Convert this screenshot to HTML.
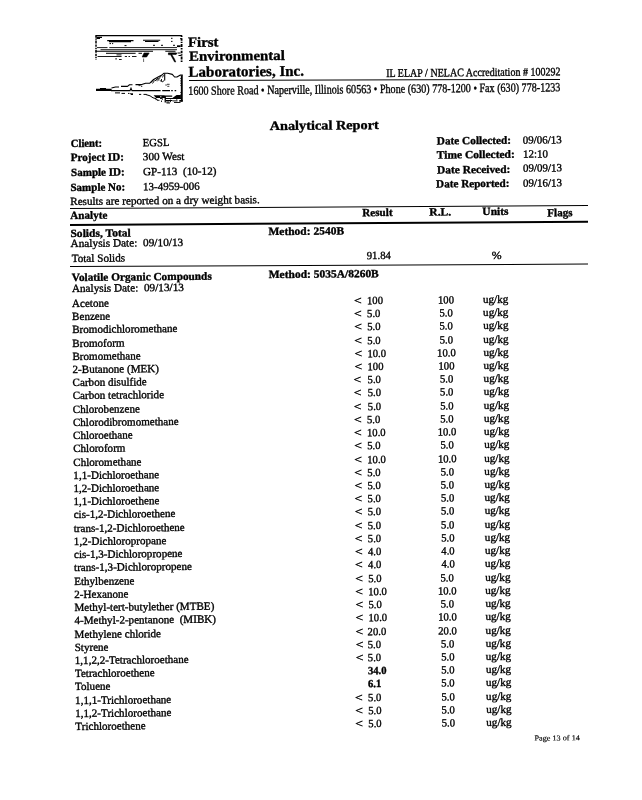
<!DOCTYPE html>
<html lang="en"><head><meta charset="utf-8"><title>Analytical Report</title>
<style>
html,body{margin:0;padding:0;background:#fff;}
body{width:642px;height:800px;overflow:hidden;position:relative;font-family:"Liberation Serif",serif;color:#000;}
#pg{position:absolute;left:0;top:0;width:642px;height:800px;transform:matrix(1,-0.009600,0.007854,1,0,0);transform-origin:72.1px 306.6px;}
#pg span{position:absolute;white-space:pre;line-height:20px;transform-origin:0 50%;-webkit-text-stroke:0.35px #000;}
#sh .ln{position:absolute;background:#000;}
#sh{position:absolute;left:0;top:0;width:642px;height:800px;}
#sh svg{position:absolute;left:0;top:0;overflow:visible;}
</style></head><body>
<div id="sh">
<div class="ln" style="left:70.2px;top:208.2px;width:517.7px;height:1.4px;transform:rotate(-0.338deg);transform-origin:0 50%"></div>
<div class="ln" style="left:70.2px;top:223.85px;width:517.7px;height:1.7px;transform:rotate(-0.365deg);transform-origin:0 50%"></div>
<div class="ln" style="left:70.2px;top:266.35px;width:517.7px;height:1.1px;transform:rotate(-0.266deg);transform-origin:0 50%"></div>
<div class="ln" style="left:189px;top:80.45px;width:371px;height:1.3px;transform:rotate(-0.17deg);transform-origin:0 50%"></div>
<svg width="642" height="800" viewBox="0 0 642 800" fill="none" stroke="#000" stroke-linecap="butt">
<!-- upper panel -->
<path d="M95.5 35.6H182" stroke-width="1.1"/>
<path d="M96 35.5V59.5" stroke-width="1.5" stroke-dasharray="2.2 0.9 1.2 0.8 3 1"/>
<path d="M181.6 35.5V62" stroke-width="1.8" stroke-dasharray="1.5 1.2 2.6 1 1.2 0.9 3 1.1"/>
<path d="M96.5 37.3H102M96.5 38.5H100" stroke-width="1.2"/>
<path d="M107.2 40.6H133.5M109 41.7H131" stroke-width="1.1"/>
<path d="M143 40.3H160.2M145 41.5H158.5" stroke-width="1.1"/>
<path d="M109.5 43.6H111M112 43.6H113.2M124.5 45.6H126.5M135.5 36.5v0M153 45.3H155M161 45.3H163M173 45.3H175M171 38.3H172.5M171 41.4H172.5M180 38.7H182" stroke-width="1"/>
<path d="M97 47.6H107.5M109.3 47.6H177" stroke-width="0.9"/>
<path d="M100.5 49.7H177" stroke-width="0.9"/>
<path d="M95.5 51.3H153M165.3 51.2H175.5" stroke-width="1.1"/>
<path d="M106 53.3H135.6M138.5 53.3H142M168.4 53.3H177" stroke-width="1"/>
<path d="M97.5 56.5H121.6M124.8 56.5H127M128.5 56.5H130M132 56.5H136.5" stroke-width="0.9"/>
<path d="M116.5 54.9H121.5M115.2 58.9H117M119 59.5H121.7" stroke-width="0.9"/>
<path d="M144 53h5.2l-2.6 4h-4.4zM143.6 58.5v3.5" fill="#000" stroke-width="0.6"/>
<path d="M168.4 52.9h7.8v1.6h-4.4l2.6 4.2 1.4 3.3h-1.2l-2-3.6-2-3.6h-2.2z" fill="#000" stroke-width="0.5"/>
<path d="M177 45.3h3.6v1.8H177z" fill="#000" stroke="none"/>
<path d="M177.5 53h3M178.5 55.5h3" stroke-width="1"/>
<!-- lower panel: mountain -->
<path d="M96 88.7h15.6v2.3H96z M100 88h6v1h-6z" fill="#000" stroke="none"/>
<path d="M111 90.6H130l1-2.4 1 2.4H160.6M162.2 90.6H170M171.2 90.6H172.8M174.6 90.6H176.2" stroke-width="1.1"/>
<path d="M111.5 88l4-1h3.5M121 86.4h6.5l2-1.6h3M135.5 84.6h6.3l3.8-1.3h4l4-3.9 4-2.2 3.8-1.9 2.4-2h3.9l4.6 1.1 2.3 2.6h2.3l3.5-1.9h2.4" stroke-width="1.1" stroke-linejoin="round"/>
<path d="M181.8 75.4V101.5" stroke-width="1.9"/>
<path d="M180.5 78v8M180.5 92v3" stroke-width="0.6" stroke-dasharray="1 1.4"/>
<path d="M164.7 73.5v7" stroke-width="1.1"/>
<path d="M150.5 83l3.5-3.5M152.5 83.5l2-3M155 81l3-3.2M158 79.5l3.3-3.6M161.5 79v2.4l1.4.5 1-1.6M160 80.2l1 1.4" stroke-width="0.9"/>
<path d="M138.5 85.6h2M141 86.4h1.3M165.3 85h1.6M167 84.3h2.6M167.3 86.3h2" stroke-width="0.8"/>
<!-- reflections -->
<path d="M115 92.9h5M121.5 93.4h3.5M128 93.4h1.5M130 93.8h3M131 94.5h2M139 94.4h2.2M143.5 94.4h3" stroke-width="1"/>
<path d="M146 94.6l4 1.2 3 2 3.5 1" stroke-width="1"/>
<path d="M153.6 95.3h11v2.6h-8.5z M164.6 95.6h7.6v1.2h-7.6z M164.6 95.6h1.3v7h-1.3z M164.6 98.1h17v0.9h-17z M166 100.1h6.4v0.8H166z M166.2 101.6h3.3v1h-3.3z M172.4 98l4.2-3.1h4.3V98z M179.3 100h3.4v1.7h-3.4z" fill="#000" stroke="none"/>
<path d="M155.5 99.6h2M160 98.5h2.4v1.4M161.5 100.5v1.5" stroke-width="0.9"/>
<path d="M160.2 96.2h1.2v1h-1.2z" fill="#fff" stroke="none"/>
<path d="M157 100.3h2.5M166.5 103h3.5M172.5 100.9h5M174 102.5h6.5M170.5 99.6v2.6M176.8 99.2v1.2" stroke-width="0.9"/>
<path d="M155.8 80.8l2.6-2.6M157.3 81.3l2.4-2.8M162.5 77.5l1-2.5" stroke-width="0.8"/>
</svg>

</div>
<div id="pg">
<span id="t0" style="left:190.23px;top:34.01px;font-size:14px;font-weight:bold;transform:scaleX(1.0603);">First</span>
<span id="t1" style="left:190.52px;top:47.71px;font-size:14px;font-weight:bold;transform:scaleX(1.0646);">Environmental</span>
<span id="t2" style="left:190.40px;top:62.97px;font-size:15px;font-weight:bold;">Laboratories, Inc.</span>
<span id="t3" style="left:388.08px;top:66.25px;font-size:11.5px;transform:scaleX(0.8732);">IL ELAP / NELAC Accreditation # 100292</span>
<span id="t4" style="left:190.15px;top:82.21px;font-size:12.5px;transform:scaleX(0.8088);">1600 Shore Road &bull; Naperville, Illinois 60563 &bull; Phone (630) 778-1200 &bull; Fax (630) 778-1233</span>
<span id="t5" style="left:271.37px;top:117.73px;font-size:13px;font-weight:bold;transform:scaleX(1.0997);">Analytical Report</span>
<span id="t6" style="left:71.76px;top:132.98px;font-size:11px;font-weight:bold;transform:scaleX(0.9694);">Client:</span>
<span id="t7" style="left:71.64px;top:147.28px;font-size:11px;font-weight:bold;transform:scaleX(1.0068);">Project ID:</span>
<span id="t8" style="left:71.53px;top:162.28px;font-size:11px;font-weight:bold;transform:scaleX(1.0059);">Sample ID:</span>
<span id="t9" style="left:71.41px;top:176.78px;font-size:11px;font-weight:bold;">Sample No:</span>
<span id="t10" style="left:144.25px;top:133.18px;font-size:11px;transform:scaleX(0.9709);">EGSL</span>
<span id="t11" style="left:144.14px;top:147.48px;font-size:11px;transform:scaleX(1.0201);">300 West</span>
<span id="t12" style="left:144.02px;top:162.48px;font-size:11px;transform:scaleX(1.0164);">GP-113&nbsp;&nbsp;(10-12)</span>
<span id="t13" style="left:143.91px;top:176.98px;font-size:11px;transform:scaleX(0.9960);">13-4959-006</span>
<span id="t14" style="left:437.75px;top:134.00px;font-size:11px;font-weight:bold;transform:scaleX(1.0250);">Date Collected:</span>
<span id="t15" style="left:437.64px;top:148.30px;font-size:11px;font-weight:bold;transform:scaleX(1.0437);">Time Collected:</span>
<span id="t16" style="left:437.52px;top:162.80px;font-size:11px;font-weight:bold;transform:scaleX(1.0402);">Date Received:</span>
<span id="t17" style="left:437.41px;top:176.99px;font-size:11px;font-weight:bold;transform:scaleX(1.0137);">Date Reported:</span>
<span id="t18" style="left:524.25px;top:133.63px;font-size:11px;transform:scaleX(0.9968);">09/06/13</span>
<span id="t19" style="left:524.14px;top:147.93px;font-size:11px;">12:10</span>
<span id="t20" style="left:524.02px;top:162.43px;font-size:11px;transform:scaleX(0.9968);">09/09/13</span>
<span id="t21" style="left:523.91px;top:176.62px;font-size:11px;transform:scaleX(0.9968);">09/16/13</span>
<span id="t22" style="left:71.30px;top:190.58px;font-size:11px;transform:scaleX(1.0136);">Results are reported on a dry weight basis.</span>
<span id="t23" style="left:71.19px;top:205.08px;font-size:11px;font-weight:bold;transform:scaleX(1.0089);">Analyte</span>
<span id="t24" style="left:362.99px;top:204.88px;font-size:11px;font-weight:bold;transform:scaleX(1.0116);">Result</span>
<span id="t25" style="left:430.29px;top:205.33px;font-size:11px;font-weight:bold;transform:scaleX(1.0490);">R.L.</span>
<span id="t26" style="left:483.29px;top:205.43px;font-size:11px;font-weight:bold;transform:scaleX(1.0494);">Units</span>
<span id="t27" style="left:547.78px;top:206.55px;font-size:11px;font-weight:bold;transform:scaleX(1.0055);">Flags</span>
<span id="t28" style="left:71.05px;top:222.88px;font-size:11px;font-weight:bold;transform:scaleX(1.0490);">Solids, Total</span>
<span id="t29" style="left:269.25px;top:222.68px;font-size:11px;font-weight:bold;transform:scaleX(1.0439);">Method: 2540B</span>
<span id="t30" style="left:70.77px;top:233.47px;font-size:11px;transform:scaleX(1.0275);">Analysis Date:&nbsp; 09/10/13</span>
<span id="t31" style="left:71.55px;top:248.18px;font-size:11px;transform:scaleX(1.0148);">Total Solids</span>
<span id="t32" style="left:366.55px;top:247.71px;font-size:11px;transform:scaleX(0.9818);">91.84</span>
<span id="t33" style="left:491.75px;top:248.52px;font-size:11px;transform:scaleX(1.0794);">%</span>
<span id="t34" style="left:71.70px;top:266.98px;font-size:11px;font-weight:bold;transform:scaleX(1.0255);">Volatile Organic Compounds</span>
<span id="t35" style="left:268.91px;top:266.18px;font-size:11px;font-weight:bold;transform:scaleX(1.0434);">Method: 5035A/8260B</span>
<span id="t36" style="left:71.62px;top:278.23px;font-size:11px;transform:scaleX(1.0211);">Analysis Date:&nbsp; 09/13/13</span>
<span id="t37" style="left:71.60px;top:292.89px;font-size:11px;transform:scaleX(1.0068);">Acetone</span>
<span id="t38" style="left:353.70px;top:292.89px;font-size:11px;transform:scaleX(1.2382);">&lt;</span>
<span id="t39" style="left:367.00px;top:292.89px;font-size:11px;transform:scaleX(0.9697);">100</span>
<span id="t40" style="left:446.00px;top:292.89px;font-size:11px;transform:translateX(-50%) scaleX(0.9697);transform-origin:50% 50%;">100</span>
<span id="t41" style="left:483.00px;top:292.89px;font-size:11px;transform:scaleX(1.0068);">ug/kg</span>
<span id="t42" style="left:71.60px;top:306.11px;font-size:11px;transform:scaleX(1.0068);">Benzene</span>
<span id="t43" style="left:353.66px;top:306.11px;font-size:11px;transform:scaleX(1.2382);">&lt;</span>
<span id="t44" style="left:366.94px;top:306.11px;font-size:11px;transform:scaleX(0.9697);">5.0</span>
<span id="t45" style="left:445.98px;top:306.11px;font-size:11px;transform:translateX(-50%) scaleX(0.9697);transform-origin:50% 50%;">5.0</span>
<span id="t46" style="left:483.00px;top:306.11px;font-size:11px;transform:scaleX(1.0068);">ug/kg</span>
<span id="t47" style="left:71.60px;top:319.34px;font-size:11px;transform:scaleX(1.0068);">Bromodichloromethane</span>
<span id="t48" style="left:353.62px;top:319.34px;font-size:11px;transform:scaleX(1.2382);">&lt;</span>
<span id="t49" style="left:366.88px;top:319.34px;font-size:11px;transform:scaleX(0.9697);">5.0</span>
<span id="t50" style="left:445.95px;top:319.34px;font-size:11px;transform:translateX(-50%) scaleX(0.9697);transform-origin:50% 50%;">5.0</span>
<span id="t51" style="left:483.00px;top:319.34px;font-size:11px;transform:scaleX(1.0068);">ug/kg</span>
<span id="t52" style="left:71.60px;top:332.56px;font-size:11px;transform:scaleX(1.0068);">Bromoform</span>
<span id="t53" style="left:353.58px;top:332.56px;font-size:11px;transform:scaleX(1.2382);">&lt;</span>
<span id="t54" style="left:366.81px;top:332.56px;font-size:11px;transform:scaleX(0.9697);">5.0</span>
<span id="t55" style="left:445.93px;top:332.56px;font-size:11px;transform:translateX(-50%) scaleX(0.9697);transform-origin:50% 50%;">5.0</span>
<span id="t56" style="left:483.00px;top:332.56px;font-size:11px;transform:scaleX(1.0068);">ug/kg</span>
<span id="t57" style="left:71.60px;top:345.79px;font-size:11px;transform:scaleX(1.0068);">Bromomethane</span>
<span id="t58" style="left:353.54px;top:345.79px;font-size:11px;transform:scaleX(1.2382);">&lt;</span>
<span id="t59" style="left:366.75px;top:345.79px;font-size:11px;transform:scaleX(0.9697);">10.0</span>
<span id="t60" style="left:445.90px;top:345.79px;font-size:11px;transform:translateX(-50%) scaleX(0.9697);transform-origin:50% 50%;">10.0</span>
<span id="t61" style="left:483.00px;top:345.79px;font-size:11px;transform:scaleX(1.0068);">ug/kg</span>
<span id="t62" style="left:71.60px;top:359.01px;font-size:11px;transform:scaleX(1.0068);">2-Butanone (MEK)</span>
<span id="t63" style="left:353.50px;top:359.01px;font-size:11px;transform:scaleX(1.2382);">&lt;</span>
<span id="t64" style="left:366.69px;top:359.01px;font-size:11px;transform:scaleX(0.9697);">100</span>
<span id="t65" style="left:445.88px;top:359.01px;font-size:11px;transform:translateX(-50%) scaleX(0.9697);transform-origin:50% 50%;">100</span>
<span id="t66" style="left:483.00px;top:359.01px;font-size:11px;transform:scaleX(1.0068);">ug/kg</span>
<span id="t67" style="left:71.60px;top:372.24px;font-size:11px;transform:scaleX(1.0068);">Carbon disulfide</span>
<span id="t68" style="left:353.46px;top:372.24px;font-size:11px;transform:scaleX(1.2382);">&lt;</span>
<span id="t69" style="left:366.62px;top:372.24px;font-size:11px;transform:scaleX(0.9697);">5.0</span>
<span id="t70" style="left:445.85px;top:372.24px;font-size:11px;transform:translateX(-50%) scaleX(0.9697);transform-origin:50% 50%;">5.0</span>
<span id="t71" style="left:483.00px;top:372.24px;font-size:11px;transform:scaleX(1.0068);">ug/kg</span>
<span id="t72" style="left:71.60px;top:385.46px;font-size:11px;transform:scaleX(1.0068);">Carbon tetrachloride</span>
<span id="t73" style="left:353.42px;top:385.46px;font-size:11px;transform:scaleX(1.2382);">&lt;</span>
<span id="t74" style="left:366.56px;top:385.46px;font-size:11px;transform:scaleX(0.9697);">5.0</span>
<span id="t75" style="left:445.82px;top:385.46px;font-size:11px;transform:translateX(-50%) scaleX(0.9697);transform-origin:50% 50%;">5.0</span>
<span id="t76" style="left:483.00px;top:385.46px;font-size:11px;transform:scaleX(1.0068);">ug/kg</span>
<span id="t77" style="left:71.60px;top:398.69px;font-size:11px;transform:scaleX(1.0068);">Chlorobenzene</span>
<span id="t78" style="left:353.38px;top:398.69px;font-size:11px;transform:scaleX(1.2382);">&lt;</span>
<span id="t79" style="left:366.50px;top:398.69px;font-size:11px;transform:scaleX(0.9697);">5.0</span>
<span id="t80" style="left:445.80px;top:398.69px;font-size:11px;transform:translateX(-50%) scaleX(0.9697);transform-origin:50% 50%;">5.0</span>
<span id="t81" style="left:483.00px;top:398.69px;font-size:11px;transform:scaleX(1.0068);">ug/kg</span>
<span id="t82" style="left:71.60px;top:411.91px;font-size:11px;transform:scaleX(1.0068);">Chlorodibromomethane</span>
<span id="t83" style="left:353.33px;top:411.91px;font-size:11px;transform:scaleX(1.2382);">&lt;</span>
<span id="t84" style="left:366.44px;top:411.91px;font-size:11px;transform:scaleX(0.9697);">5.0</span>
<span id="t85" style="left:445.77px;top:411.91px;font-size:11px;transform:translateX(-50%) scaleX(0.9697);transform-origin:50% 50%;">5.0</span>
<span id="t86" style="left:483.00px;top:411.91px;font-size:11px;transform:scaleX(1.0068);">ug/kg</span>
<span id="t87" style="left:71.60px;top:425.14px;font-size:11px;transform:scaleX(1.0068);">Chloroethane</span>
<span id="t88" style="left:353.29px;top:425.14px;font-size:11px;transform:scaleX(1.2382);">&lt;</span>
<span id="t89" style="left:366.38px;top:425.14px;font-size:11px;transform:scaleX(0.9697);">10.0</span>
<span id="t90" style="left:445.75px;top:425.14px;font-size:11px;transform:translateX(-50%) scaleX(0.9697);transform-origin:50% 50%;">10.0</span>
<span id="t91" style="left:483.00px;top:425.14px;font-size:11px;transform:scaleX(1.0068);">ug/kg</span>
<span id="t92" style="left:71.60px;top:438.36px;font-size:11px;transform:scaleX(1.0068);">Chloroform</span>
<span id="t93" style="left:353.25px;top:438.36px;font-size:11px;transform:scaleX(1.2382);">&lt;</span>
<span id="t94" style="left:366.31px;top:438.36px;font-size:11px;transform:scaleX(0.9697);">5.0</span>
<span id="t95" style="left:445.73px;top:438.36px;font-size:11px;transform:translateX(-50%) scaleX(0.9697);transform-origin:50% 50%;">5.0</span>
<span id="t96" style="left:483.00px;top:438.36px;font-size:11px;transform:scaleX(1.0068);">ug/kg</span>
<span id="t97" style="left:71.60px;top:451.59px;font-size:11px;transform:scaleX(1.0068);">Chloromethane</span>
<span id="t98" style="left:353.21px;top:451.59px;font-size:11px;transform:scaleX(1.2382);">&lt;</span>
<span id="t99" style="left:366.25px;top:451.59px;font-size:11px;transform:scaleX(0.9697);">10.0</span>
<span id="t100" style="left:445.70px;top:451.59px;font-size:11px;transform:translateX(-50%) scaleX(0.9697);transform-origin:50% 50%;">10.0</span>
<span id="t101" style="left:483.00px;top:451.59px;font-size:11px;transform:scaleX(1.0068);">ug/kg</span>
<span id="t102" style="left:71.60px;top:464.81px;font-size:11px;transform:scaleX(1.0068);">1,1-Dichloroethane</span>
<span id="t103" style="left:353.17px;top:464.81px;font-size:11px;transform:scaleX(1.2382);">&lt;</span>
<span id="t104" style="left:366.19px;top:464.81px;font-size:11px;transform:scaleX(0.9697);">5.0</span>
<span id="t105" style="left:445.68px;top:464.81px;font-size:11px;transform:translateX(-50%) scaleX(0.9697);transform-origin:50% 50%;">5.0</span>
<span id="t106" style="left:483.00px;top:464.81px;font-size:11px;transform:scaleX(1.0068);">ug/kg</span>
<span id="t107" style="left:71.60px;top:478.04px;font-size:11px;transform:scaleX(1.0068);">1,2-Dichloroethane</span>
<span id="t108" style="left:353.13px;top:478.04px;font-size:11px;transform:scaleX(1.2382);">&lt;</span>
<span id="t109" style="left:366.12px;top:478.04px;font-size:11px;transform:scaleX(0.9697);">5.0</span>
<span id="t110" style="left:445.65px;top:478.04px;font-size:11px;transform:translateX(-50%) scaleX(0.9697);transform-origin:50% 50%;">5.0</span>
<span id="t111" style="left:483.00px;top:478.04px;font-size:11px;transform:scaleX(1.0068);">ug/kg</span>
<span id="t112" style="left:71.60px;top:491.26px;font-size:11px;transform:scaleX(1.0068);">1,1-Dichloroethene</span>
<span id="t113" style="left:353.09px;top:491.26px;font-size:11px;transform:scaleX(1.2382);">&lt;</span>
<span id="t114" style="left:366.06px;top:491.26px;font-size:11px;transform:scaleX(0.9697);">5.0</span>
<span id="t115" style="left:445.62px;top:491.26px;font-size:11px;transform:translateX(-50%) scaleX(0.9697);transform-origin:50% 50%;">5.0</span>
<span id="t116" style="left:483.00px;top:491.26px;font-size:11px;transform:scaleX(1.0068);">ug/kg</span>
<span id="t117" style="left:71.60px;top:504.49px;font-size:11px;transform:scaleX(1.0068);">cis-1,2-Dichloroethene</span>
<span id="t118" style="left:353.05px;top:504.49px;font-size:11px;transform:scaleX(1.2382);">&lt;</span>
<span id="t119" style="left:366.00px;top:504.49px;font-size:11px;transform:scaleX(0.9697);">5.0</span>
<span id="t120" style="left:445.60px;top:504.49px;font-size:11px;transform:translateX(-50%) scaleX(0.9697);transform-origin:50% 50%;">5.0</span>
<span id="t121" style="left:483.00px;top:504.49px;font-size:11px;transform:scaleX(1.0068);">ug/kg</span>
<span id="t122" style="left:71.60px;top:517.71px;font-size:11px;transform:scaleX(1.0068);">trans-1,2-Dichloroethene</span>
<span id="t123" style="left:353.01px;top:517.71px;font-size:11px;transform:scaleX(1.2382);">&lt;</span>
<span id="t124" style="left:365.94px;top:517.71px;font-size:11px;transform:scaleX(0.9697);">5.0</span>
<span id="t125" style="left:445.57px;top:517.71px;font-size:11px;transform:translateX(-50%) scaleX(0.9697);transform-origin:50% 50%;">5.0</span>
<span id="t126" style="left:483.00px;top:517.71px;font-size:11px;transform:scaleX(1.0068);">ug/kg</span>
<span id="t127" style="left:71.60px;top:530.94px;font-size:11px;transform:scaleX(1.0068);">1,2-Dichloropropane</span>
<span id="t128" style="left:352.97px;top:530.94px;font-size:11px;transform:scaleX(1.2382);">&lt;</span>
<span id="t129" style="left:365.88px;top:530.94px;font-size:11px;transform:scaleX(0.9697);">5.0</span>
<span id="t130" style="left:445.55px;top:530.94px;font-size:11px;transform:translateX(-50%) scaleX(0.9697);transform-origin:50% 50%;">5.0</span>
<span id="t131" style="left:483.00px;top:530.94px;font-size:11px;transform:scaleX(1.0068);">ug/kg</span>
<span id="t132" style="left:71.60px;top:544.16px;font-size:11px;transform:scaleX(1.0068);">cis-1,3-Dichloropropene</span>
<span id="t133" style="left:352.93px;top:544.16px;font-size:11px;transform:scaleX(1.2382);">&lt;</span>
<span id="t134" style="left:365.81px;top:544.16px;font-size:11px;transform:scaleX(0.9697);">4.0</span>
<span id="t135" style="left:445.52px;top:544.16px;font-size:11px;transform:translateX(-50%) scaleX(0.9697);transform-origin:50% 50%;">4.0</span>
<span id="t136" style="left:483.00px;top:544.16px;font-size:11px;transform:scaleX(1.0068);">ug/kg</span>
<span id="t137" style="left:71.60px;top:557.39px;font-size:11px;transform:scaleX(1.0068);">trans-1,3-Dichloropropene</span>
<span id="t138" style="left:352.89px;top:557.39px;font-size:11px;transform:scaleX(1.2382);">&lt;</span>
<span id="t139" style="left:365.75px;top:557.39px;font-size:11px;transform:scaleX(0.9697);">4.0</span>
<span id="t140" style="left:445.50px;top:557.39px;font-size:11px;transform:translateX(-50%) scaleX(0.9697);transform-origin:50% 50%;">4.0</span>
<span id="t141" style="left:483.00px;top:557.39px;font-size:11px;transform:scaleX(1.0068);">ug/kg</span>
<span id="t142" style="left:71.60px;top:570.61px;font-size:11px;transform:scaleX(1.0068);">Ethylbenzene</span>
<span id="t143" style="left:352.85px;top:570.61px;font-size:11px;transform:scaleX(1.2382);">&lt;</span>
<span id="t144" style="left:365.69px;top:570.61px;font-size:11px;transform:scaleX(0.9697);">5.0</span>
<span id="t145" style="left:445.48px;top:570.61px;font-size:11px;transform:translateX(-50%) scaleX(0.9697);transform-origin:50% 50%;">5.0</span>
<span id="t146" style="left:483.00px;top:570.61px;font-size:11px;transform:scaleX(1.0068);">ug/kg</span>
<span id="t147" style="left:71.60px;top:583.84px;font-size:11px;transform:scaleX(1.0068);">2-Hexanone</span>
<span id="t148" style="left:352.81px;top:583.84px;font-size:11px;transform:scaleX(1.2382);">&lt;</span>
<span id="t149" style="left:365.62px;top:583.84px;font-size:11px;transform:scaleX(0.9697);">10.0</span>
<span id="t150" style="left:445.45px;top:583.84px;font-size:11px;transform:translateX(-50%) scaleX(0.9697);transform-origin:50% 50%;">10.0</span>
<span id="t151" style="left:483.00px;top:583.84px;font-size:11px;transform:scaleX(1.0068);">ug/kg</span>
<span id="t152" style="left:71.60px;top:597.06px;font-size:11px;transform:scaleX(1.0068);">Methyl-tert-butylether (MTBE)</span>
<span id="t153" style="left:352.77px;top:597.06px;font-size:11px;transform:scaleX(1.2382);">&lt;</span>
<span id="t154" style="left:365.56px;top:597.06px;font-size:11px;transform:scaleX(0.9697);">5.0</span>
<span id="t155" style="left:445.43px;top:597.06px;font-size:11px;transform:translateX(-50%) scaleX(0.9697);transform-origin:50% 50%;">5.0</span>
<span id="t156" style="left:483.00px;top:597.06px;font-size:11px;transform:scaleX(1.0068);">ug/kg</span>
<span id="t157" style="left:71.60px;top:610.29px;font-size:11px;transform:scaleX(1.0068);">4-Methyl-2-pentanone&nbsp; (MIBK)</span>
<span id="t158" style="left:352.72px;top:610.29px;font-size:11px;transform:scaleX(1.2382);">&lt;</span>
<span id="t159" style="left:365.50px;top:610.29px;font-size:11px;transform:scaleX(0.9697);">10.0</span>
<span id="t160" style="left:445.40px;top:610.29px;font-size:11px;transform:translateX(-50%) scaleX(0.9697);transform-origin:50% 50%;">10.0</span>
<span id="t161" style="left:483.00px;top:610.29px;font-size:11px;transform:scaleX(1.0068);">ug/kg</span>
<span id="t162" style="left:71.60px;top:623.51px;font-size:11px;transform:scaleX(1.0068);">Methylene chloride</span>
<span id="t163" style="left:352.68px;top:623.51px;font-size:11px;transform:scaleX(1.2382);">&lt;</span>
<span id="t164" style="left:365.44px;top:623.51px;font-size:11px;transform:scaleX(0.9697);">20.0</span>
<span id="t165" style="left:445.38px;top:623.51px;font-size:11px;transform:translateX(-50%) scaleX(0.9697);transform-origin:50% 50%;">20.0</span>
<span id="t166" style="left:483.00px;top:623.51px;font-size:11px;transform:scaleX(1.0068);">ug/kg</span>
<span id="t167" style="left:71.60px;top:636.74px;font-size:11px;transform:scaleX(1.0068);">Styrene</span>
<span id="t168" style="left:352.64px;top:636.74px;font-size:11px;transform:scaleX(1.2382);">&lt;</span>
<span id="t169" style="left:365.38px;top:636.74px;font-size:11px;transform:scaleX(0.9697);">5.0</span>
<span id="t170" style="left:445.35px;top:636.74px;font-size:11px;transform:translateX(-50%) scaleX(0.9697);transform-origin:50% 50%;">5.0</span>
<span id="t171" style="left:483.00px;top:636.74px;font-size:11px;transform:scaleX(1.0068);">ug/kg</span>
<span id="t172" style="left:71.60px;top:649.96px;font-size:11px;transform:scaleX(1.0068);">1,1,2,2-Tetrachloroethane</span>
<span id="t173" style="left:352.60px;top:649.96px;font-size:11px;transform:scaleX(1.2382);">&lt;</span>
<span id="t174" style="left:365.31px;top:649.96px;font-size:11px;transform:scaleX(0.9697);">5.0</span>
<span id="t175" style="left:445.32px;top:649.96px;font-size:11px;transform:translateX(-50%) scaleX(0.9697);transform-origin:50% 50%;">5.0</span>
<span id="t176" style="left:483.00px;top:649.96px;font-size:11px;transform:scaleX(1.0068);">ug/kg</span>
<span id="t177" style="left:71.60px;top:663.19px;font-size:11px;transform:scaleX(1.0068);">Tetrachloroethene</span>
<span id="t178" style="left:365.25px;top:663.19px;font-size:11px;font-weight:bold;transform:scaleX(0.9697);">34.0</span>
<span id="t179" style="left:445.30px;top:663.19px;font-size:11px;transform:translateX(-50%) scaleX(0.9697);transform-origin:50% 50%;">5.0</span>
<span id="t180" style="left:483.00px;top:663.19px;font-size:11px;transform:scaleX(1.0068);">ug/kg</span>
<span id="t181" style="left:71.60px;top:676.41px;font-size:11px;transform:scaleX(1.0068);">Toluene</span>
<span id="t182" style="left:365.19px;top:676.41px;font-size:11px;font-weight:bold;transform:scaleX(0.9697);">6.1</span>
<span id="t183" style="left:445.27px;top:676.41px;font-size:11px;transform:translateX(-50%) scaleX(0.9697);transform-origin:50% 50%;">5.0</span>
<span id="t184" style="left:483.00px;top:676.41px;font-size:11px;transform:scaleX(1.0068);">ug/kg</span>
<span id="t185" style="left:71.60px;top:689.64px;font-size:11px;transform:scaleX(1.0068);">1,1,1-Trichloroethane</span>
<span id="t186" style="left:352.48px;top:689.64px;font-size:11px;transform:scaleX(1.2382);">&lt;</span>
<span id="t187" style="left:365.12px;top:689.64px;font-size:11px;transform:scaleX(0.9697);">5.0</span>
<span id="t188" style="left:445.25px;top:689.64px;font-size:11px;transform:translateX(-50%) scaleX(0.9697);transform-origin:50% 50%;">5.0</span>
<span id="t189" style="left:483.00px;top:689.64px;font-size:11px;transform:scaleX(1.0068);">ug/kg</span>
<span id="t190" style="left:71.60px;top:702.86px;font-size:11px;transform:scaleX(1.0068);">1,1,2-Trichloroethane</span>
<span id="t191" style="left:352.44px;top:702.86px;font-size:11px;transform:scaleX(1.2382);">&lt;</span>
<span id="t192" style="left:365.06px;top:702.86px;font-size:11px;transform:scaleX(0.9697);">5.0</span>
<span id="t193" style="left:445.23px;top:702.86px;font-size:11px;transform:translateX(-50%) scaleX(0.9697);transform-origin:50% 50%;">5.0</span>
<span id="t194" style="left:483.00px;top:702.86px;font-size:11px;transform:scaleX(1.0068);">ug/kg</span>
<span id="t195" style="left:71.60px;top:716.09px;font-size:11px;transform:scaleX(1.0068);">Trichloroethene</span>
<span id="t196" style="left:352.40px;top:716.09px;font-size:11px;transform:scaleX(1.2382);">&lt;</span>
<span id="t197" style="left:365.00px;top:716.09px;font-size:11px;transform:scaleX(0.9697);">5.0</span>
<span id="t198" style="left:445.20px;top:716.09px;font-size:11px;transform:translateX(-50%) scaleX(0.9697);transform-origin:50% 50%;">5.0</span>
<span id="t199" style="left:483.00px;top:716.09px;font-size:11px;transform:scaleX(1.0068);">ug/kg</span>
<span id="t200" style="left:531.15px;top:733.38px;font-size:7.5px;-webkit-text-stroke-width:0.15px;transform:scaleX(1.0952);">Page 13 of 14</span>
</div></body></html>
